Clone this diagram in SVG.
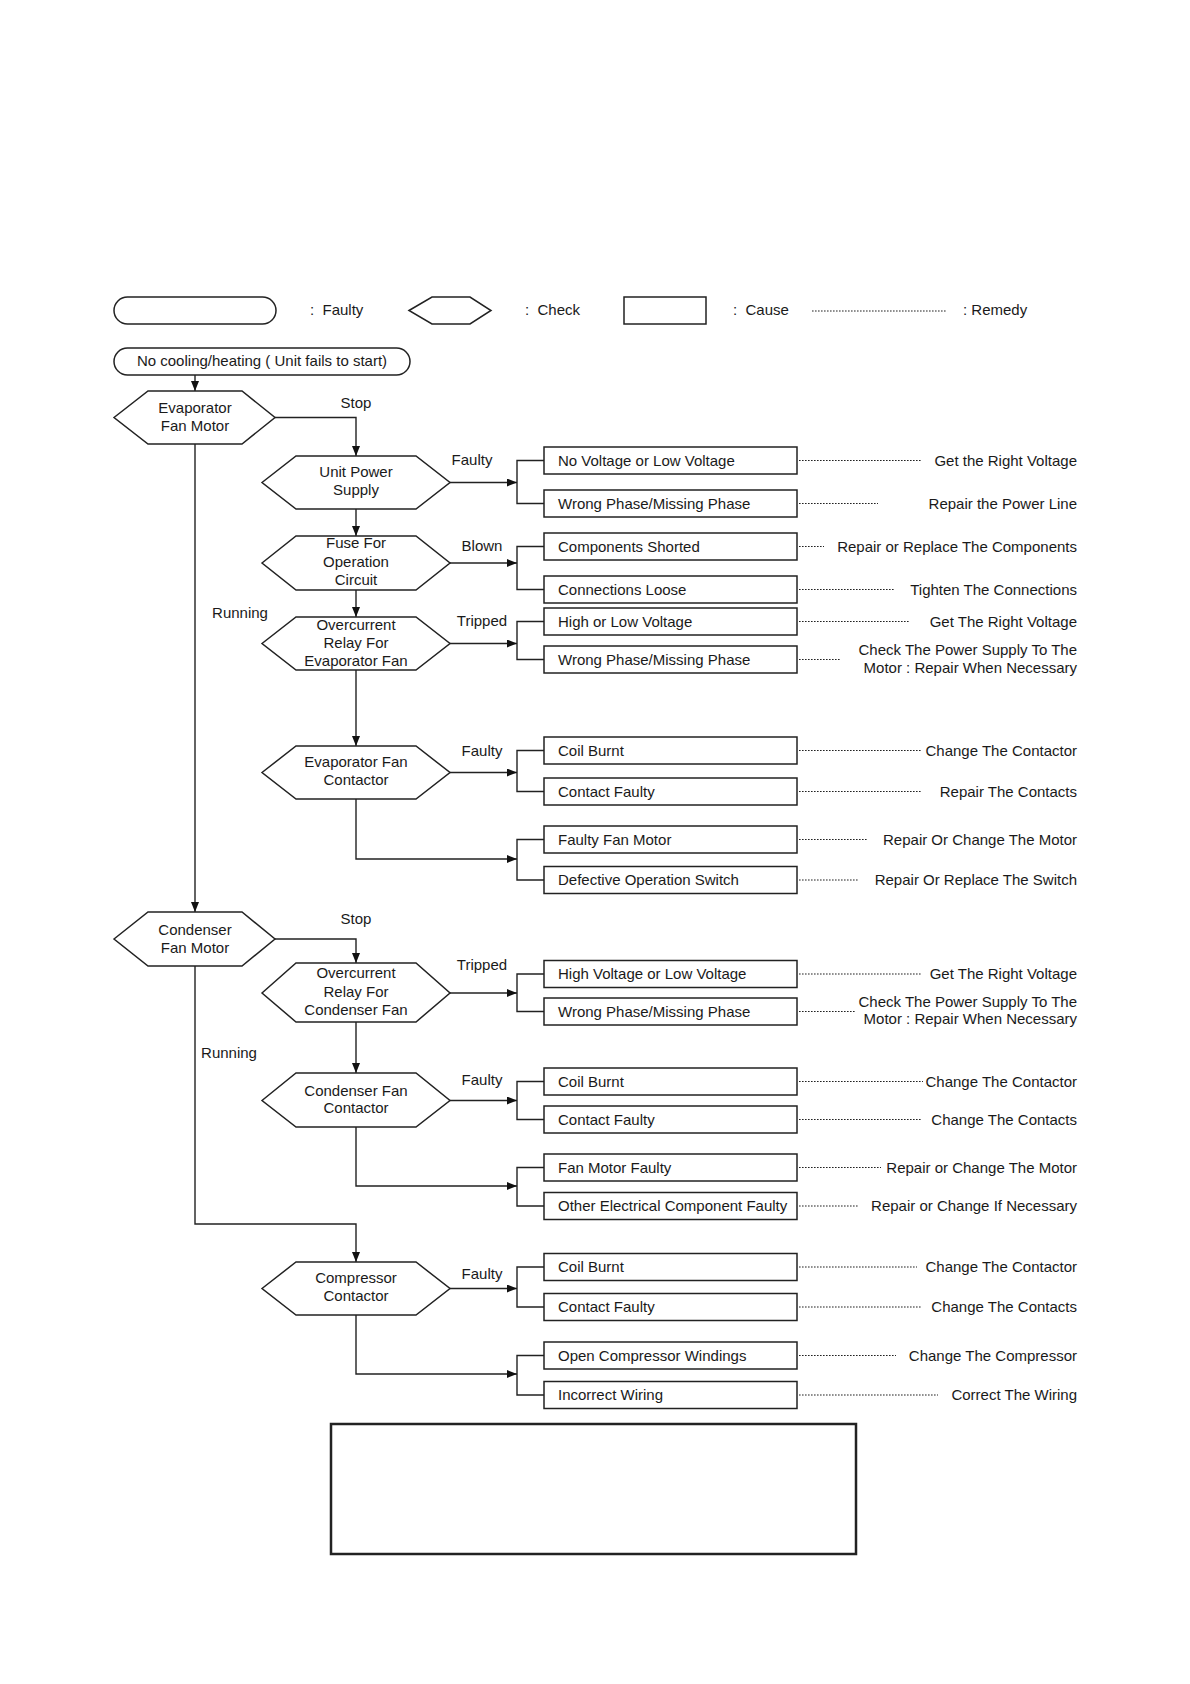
<svg xmlns="http://www.w3.org/2000/svg" width="1190" height="1684" viewBox="0 0 1190 1684">
<defs>
<style>
.s{fill:#fff;stroke:#222;stroke-width:1.5}
.t{font-family:"Liberation Sans",Arial,sans-serif;font-size:15px;fill:#1a1a1a}
.m{text-anchor:middle}
.e{text-anchor:end}
.c{fill:none;stroke:#222;stroke-width:1.4}
.d{fill:none;stroke:#222;stroke-width:1.2;stroke-dasharray:1.6 1.4}
.bx{fill:none;stroke:#222;stroke-width:2.5}
</style>
<marker id="ah" viewBox="0 0 10 8" refX="10" refY="4" markerWidth="10" markerHeight="8" markerUnits="userSpaceOnUse" orient="auto"><path d="M0,0 L10,4 L0,8 z" fill="#111"/></marker>
</defs>
<rect width="1190" height="1684" fill="#fff"/>

<g id="legend">
<rect class="s" x="114" y="297" width="162" height="27" rx="13.5"/>
<text class="t" x="310" y="315" xml:space="preserve">:  Faulty</text>
<polygon class="s" points="409,310.5 432,297 470,297 491,310.5 470,324 432,324"/>
<text class="t" x="525" y="315" xml:space="preserve">:  Check</text>
<rect class="s" x="624" y="297" width="82" height="27"/>
<text class="t" x="733" y="315" xml:space="preserve">:  Cause</text>
<line class="d" x1="812" y1="311" x2="946" y2="311"/>
<text class="t" x="963" y="315">: Remedy</text>
</g>

<g id="connectors">
<line class="c" x1="195" y1="375" x2="195" y2="391" marker-end="url(#ah)"/>
<polyline class="c" points="275,417.5 356,417.5 356,456" marker-end="url(#ah)"/>
<line class="c" x1="450" y1="482.5" x2="517" y2="482.5" marker-end="url(#ah)"/>
<line class="c" x1="356" y1="509" x2="356" y2="536" marker-end="url(#ah)"/>
<line class="c" x1="450" y1="563" x2="517" y2="563" marker-end="url(#ah)"/>
<line class="c" x1="356" y1="590" x2="356" y2="617" marker-end="url(#ah)"/>
<line class="c" x1="450" y1="643.5" x2="517" y2="643.5" marker-end="url(#ah)"/>
<line class="c" x1="356" y1="670" x2="356" y2="746" marker-end="url(#ah)"/>
<line class="c" x1="450" y1="772.5" x2="517" y2="772.5" marker-end="url(#ah)"/>
<polyline class="c" points="356,799 356,859 517,859" marker-end="url(#ah)"/>
<line class="c" x1="195" y1="444" x2="195" y2="912" marker-end="url(#ah)"/>
<polyline class="c" points="275,939 356,939 356,963" marker-end="url(#ah)"/>
<line class="c" x1="450" y1="993" x2="517" y2="993" marker-end="url(#ah)"/>
<line class="c" x1="356" y1="1022" x2="356" y2="1073" marker-end="url(#ah)"/>
<line class="c" x1="450" y1="1100.5" x2="517" y2="1100.5" marker-end="url(#ah)"/>
<polyline class="c" points="356,1127 356,1186 517,1186" marker-end="url(#ah)"/>
<polyline class="c" points="195,966 195,1224 356,1224 356,1262" marker-end="url(#ah)"/>
<line class="c" x1="450" y1="1288.5" x2="517" y2="1288.5" marker-end="url(#ah)"/>
<polyline class="c" points="356,1315 356,1374 517,1374" marker-end="url(#ah)"/>
<!-- brackets -->
<polyline class="c" points="544,460.5 517,460.5 517,503.5 544,503.5"/>
<polyline class="c" points="544,546.5 517,546.5 517,589.5 544,589.5"/>
<polyline class="c" points="544,621.5 517,621.5 517,659.5 544,659.5"/>
<polyline class="c" points="544,750.5 517,750.5 517,791.5 544,791.5"/>
<polyline class="c" points="544,839.5 517,839.5 517,880 544,880"/>
<polyline class="c" points="544,974 517,974 517,1011.5 544,1011.5"/>
<polyline class="c" points="544,1081.5 517,1081.5 517,1119.5 544,1119.5"/>
<polyline class="c" points="544,1167.5 517,1167.5 517,1206 544,1206"/>
<polyline class="c" points="544,1267 517,1267 517,1307 544,1307"/>
<polyline class="c" points="544,1355.5 517,1355.5 517,1395 544,1395"/>
<!-- remedy dotted lines -->
<line class="d" x1="799" y1="460.5" x2="921" y2="460.5"/>
<line class="d" x1="799" y1="503.5" x2="878" y2="503.5"/>
<line class="d" x1="799" y1="546.5" x2="824" y2="546.5"/>
<line class="d" x1="799" y1="589.5" x2="894" y2="589.5"/>
<line class="d" x1="799" y1="621.5" x2="910" y2="621.5"/>
<line class="d" x1="799" y1="659.5" x2="840" y2="659.5"/>
<line class="d" x1="799" y1="750.5" x2="921" y2="750.5"/>
<line class="d" x1="799" y1="791.5" x2="922" y2="791.5"/>
<line class="d" x1="799" y1="839.5" x2="868" y2="839.5"/>
<line class="d" x1="799" y1="880" x2="858" y2="880"/>
<line class="d" x1="799" y1="974" x2="921" y2="974"/>
<line class="d" x1="799" y1="1011.5" x2="856" y2="1011.5"/>
<line class="d" x1="799" y1="1081.5" x2="923" y2="1081.5"/>
<line class="d" x1="799" y1="1119.5" x2="922" y2="1119.5"/>
<line class="d" x1="799" y1="1167.5" x2="881" y2="1167.5"/>
<line class="d" x1="799" y1="1206" x2="858" y2="1206"/>
<line class="d" x1="799" y1="1267" x2="917" y2="1267"/>
<line class="d" x1="799" y1="1307" x2="922" y2="1307"/>
<line class="d" x1="799" y1="1355.5" x2="896" y2="1355.5"/>
<line class="d" x1="799" y1="1395" x2="938" y2="1395"/>
<!-- connector labels -->
<text class="t m" x="356" y="408">Stop</text>
<text class="t m" x="472" y="465">Faulty</text>
<text class="t m" x="482" y="551">Blown</text>
<text class="t m" x="482" y="626">Tripped</text>
<text class="t m" x="240" y="618">Running</text>
<text class="t m" x="482" y="756">Faulty</text>
<text class="t m" x="356" y="924">Stop</text>
<text class="t m" x="482" y="970">Tripped</text>
<text class="t m" x="229" y="1058">Running</text>
<text class="t m" x="482" y="1085">Faulty</text>
<text class="t m" x="482" y="1279">Faulty</text>
</g>

<g id="start">
<rect class="s" x="114" y="348" width="296" height="27" rx="13.5"/>
<text class="t m" x="262" y="366">No cooling/heating ( Unit fails to start)</text>
</g>

<g id="evap-fan-motor">
<polygon class="s" points="114,417.5 148,391 242,391 275,417.5 242,444 148,444"/>
<text class="t m" x="195" y="413">Evaporator</text>
<text class="t m" x="195" y="431">Fan Motor</text>
</g>
<g id="unit-power-supply">
<polygon class="s" points="262,482.5 296,456 416,456 450,482.5 416,509 296,509"/>
<text class="t m" x="356" y="477">Unit Power</text>
<text class="t m" x="356" y="495">Supply</text>
</g>
<g id="fuse">
<polygon class="s" points="262,563 296,536 416,536 450,563 416,590 296,590"/>
<text class="t m" x="356" y="548">Fuse For</text>
<text class="t m" x="356" y="567">Operation</text>
<text class="t m" x="356" y="585">Circuit</text>
</g>
<g id="ocr-evap">
<polygon class="s" points="262,643.5 296,617 416,617 450,643.5 416,670 296,670"/>
<text class="t m" x="356" y="630">Overcurrent</text>
<text class="t m" x="356" y="648">Relay For</text>
<text class="t m" x="356" y="666">Evaporator Fan</text>
</g>
<g id="evap-fan-contactor">
<polygon class="s" points="262,772.5 296,746 416,746 450,772.5 416,799 296,799"/>
<text class="t m" x="356" y="767">Evaporator Fan</text>
<text class="t m" x="356" y="785">Contactor</text>
</g>
<g id="cond-fan-motor">
<polygon class="s" points="114,939 148,912 242,912 275,939 242,966 148,966"/>
<text class="t m" x="195" y="935">Condenser</text>
<text class="t m" x="195" y="953">Fan Motor</text>
</g>
<g id="ocr-cond">
<polygon class="s" points="262,993 296,963 416,963 450,993 416,1022 296,1022"/>
<text class="t m" x="356" y="978">Overcurrent</text>
<text class="t m" x="356" y="997">Relay For</text>
<text class="t m" x="356" y="1015">Condenser Fan</text>
</g>
<g id="cond-fan-contactor">
<polygon class="s" points="262,1100.5 296,1073 416,1073 450,1100.5 416,1127 296,1127"/>
<text class="t m" x="356" y="1096">Condenser Fan</text>
<text class="t m" x="356" y="1113">Contactor</text>
</g>
<g id="comp-contactor">
<polygon class="s" points="262,1288.5 296,1262 416,1262 450,1288.5 416,1315 296,1315"/>
<text class="t m" x="356" y="1283">Compressor</text>
<text class="t m" x="356" y="1301">Contactor</text>
</g>

<g id="causes">
<g id="c1"><rect class="s" x="544" y="447" width="253" height="27"/><text class="t" x="558" y="465.5">No Voltage or Low Voltage</text><text class="t e" x="1077" y="465.5">Get the Right Voltage</text></g>
<g id="c2"><rect class="s" x="544" y="490" width="253" height="27"/><text class="t" x="558" y="508.5">Wrong Phase/Missing Phase</text><text class="t e" x="1077" y="508.5">Repair the Power Line</text></g>
<g id="c3"><rect class="s" x="544" y="533" width="253" height="27"/><text class="t" x="558" y="551.5">Components Shorted</text><text class="t e" x="1077" y="551.5">Repair or Replace The Components</text></g>
<g id="c4"><rect class="s" x="544" y="576" width="253" height="27"/><text class="t" x="558" y="594.5">Connections Loose</text><text class="t e" x="1077" y="594.5">Tighten The Connections</text></g>
<g id="c5"><rect class="s" x="544" y="608" width="253" height="27"/><text class="t" x="558" y="626.5">High or Low Voltage</text><text class="t e" x="1077" y="626.5">Get The Right Voltage</text></g>
<g id="c6"><rect class="s" x="544" y="646" width="253" height="27"/><text class="t" x="558" y="664.5">Wrong Phase/Missing Phase</text><text class="t e" x="1077" y="655">Check The Power Supply To The</text><text class="t e" x="1077" y="673">Motor : Repair When Necessary</text></g>
<g id="c7"><rect class="s" x="544" y="737" width="253" height="27"/><text class="t" x="558" y="755.5">Coil Burnt</text><text class="t e" x="1077" y="755.5">Change The Contactor</text></g>
<g id="c8"><rect class="s" x="544" y="778" width="253" height="27"/><text class="t" x="558" y="796.5">Contact Faulty</text><text class="t e" x="1077" y="796.5">Repair The Contacts</text></g>
<g id="c9"><rect class="s" x="544" y="826" width="253" height="27"/><text class="t" x="558" y="844.5">Faulty Fan Motor</text><text class="t e" x="1077" y="844.5">Repair Or Change The Motor</text></g>
<g id="c10"><rect class="s" x="544" y="866.5" width="253" height="27"/><text class="t" x="558" y="885">Defective Operation Switch</text><text class="t e" x="1077" y="885">Repair Or Replace The Switch</text></g>
<g id="c11"><rect class="s" x="544" y="960.5" width="253" height="27"/><text class="t" x="558" y="979">High Voltage or Low Voltage</text><text class="t e" x="1077" y="979">Get The Right Voltage</text></g>
<g id="c12"><rect class="s" x="544" y="998" width="253" height="27"/><text class="t" x="558" y="1016.5">Wrong Phase/Missing Phase</text><text class="t e" x="1077" y="1007">Check The Power Supply To The</text><text class="t e" x="1077" y="1024">Motor : Repair When Necessary</text></g>
<g id="c13"><rect class="s" x="544" y="1068" width="253" height="27"/><text class="t" x="558" y="1086.5">Coil Burnt</text><text class="t e" x="1077" y="1086.5">Change The Contactor</text></g>
<g id="c14"><rect class="s" x="544" y="1106" width="253" height="27"/><text class="t" x="558" y="1124.5">Contact Faulty</text><text class="t e" x="1077" y="1124.5">Change The Contacts</text></g>
<g id="c15"><rect class="s" x="544" y="1154" width="253" height="27"/><text class="t" x="558" y="1172.5">Fan Motor Faulty</text><text class="t e" x="1077" y="1172.5">Repair or Change The Motor</text></g>
<g id="c16"><rect class="s" x="544" y="1192.5" width="253" height="27"/><text class="t" x="558" y="1211">Other Electrical Component Faulty</text><text class="t e" x="1077" y="1211">Repair or Change If Necessary</text></g>
<g id="c17"><rect class="s" x="544" y="1253.5" width="253" height="27"/><text class="t" x="558" y="1272">Coil Burnt</text><text class="t e" x="1077" y="1272">Change The Contactor</text></g>
<g id="c18"><rect class="s" x="544" y="1293.5" width="253" height="27"/><text class="t" x="558" y="1312">Contact Faulty</text><text class="t e" x="1077" y="1312">Change The Contacts</text></g>
<g id="c19"><rect class="s" x="544" y="1342" width="253" height="27"/><text class="t" x="558" y="1360.5">Open Compressor Windings</text><text class="t e" x="1077" y="1360.5">Change The Compressor</text></g>
<g id="c20"><rect class="s" x="544" y="1381.5" width="253" height="27"/><text class="t" x="558" y="1400">Incorrect Wiring</text><text class="t e" x="1077" y="1400">Correct The Wiring</text></g>
</g>

<g id="note-box">
<rect class="bx" x="331" y="1424" width="525" height="130"/>
</g>
</svg>
